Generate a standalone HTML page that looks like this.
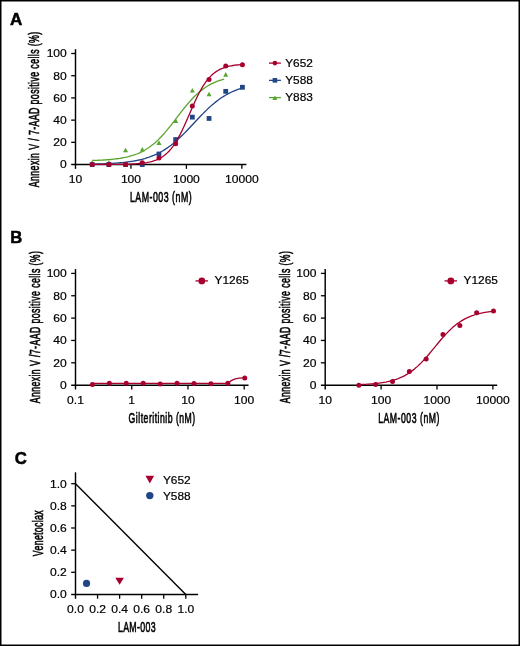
<!DOCTYPE html>
<html><head><meta charset="utf-8"><style>
html,body{margin:0;padding:0;background:#fff;}
body{width:520px;height:646px;overflow:hidden;}
svg{display:block;will-change:transform;}
text{font-family:"Liberation Sans", sans-serif;}
</style></head><body>
<svg width="520" height="646" viewBox="0 0 520 646">
<rect x="0" y="0" width="520" height="646" fill="#fff"/>
<text transform="translate(10.00,24.90) scale(1.040,1)" font-size="16.40" font-weight="bold" fill="#000" stroke="#000" stroke-width="0.5">A</text>
<g stroke-linecap="butt">
<line x1="75.50" y1="49.20" x2="75.50" y2="168.85" stroke="#000" stroke-width="1.45"/>
<line x1="71.20" y1="164.55" x2="246.40" y2="164.55" stroke="#000" stroke-width="1.45"/>
<line x1="71.20" y1="142.34" x2="75.50" y2="142.34" stroke="#000" stroke-width="1.30"/>
<line x1="71.20" y1="120.13" x2="75.50" y2="120.13" stroke="#000" stroke-width="1.30"/>
<line x1="71.20" y1="97.92" x2="75.50" y2="97.92" stroke="#000" stroke-width="1.30"/>
<line x1="71.20" y1="75.71" x2="75.50" y2="75.71" stroke="#000" stroke-width="1.30"/>
<line x1="71.20" y1="53.50" x2="75.50" y2="53.50" stroke="#000" stroke-width="1.30"/>
<line x1="130.95" y1="164.55" x2="130.95" y2="168.85" stroke="#000" stroke-width="1.30"/>
<line x1="186.40" y1="164.55" x2="186.40" y2="168.85" stroke="#000" stroke-width="1.30"/>
<line x1="241.85" y1="164.55" x2="241.85" y2="168.85" stroke="#000" stroke-width="1.30"/>
</g>
<text transform="translate(66.80,168.40) scale(1.120,1)" font-size="10.80" text-anchor="end" fill="#000" stroke="#000" stroke-width="0.20">0</text>
<text transform="translate(66.80,146.19) scale(1.120,1)" font-size="10.80" text-anchor="end" fill="#000" stroke="#000" stroke-width="0.20">20</text>
<text transform="translate(66.80,123.98) scale(1.120,1)" font-size="10.80" text-anchor="end" fill="#000" stroke="#000" stroke-width="0.20">40</text>
<text transform="translate(66.80,101.77) scale(1.120,1)" font-size="10.80" text-anchor="end" fill="#000" stroke="#000" stroke-width="0.20">60</text>
<text transform="translate(66.80,79.56) scale(1.120,1)" font-size="10.80" text-anchor="end" fill="#000" stroke="#000" stroke-width="0.20">80</text>
<text transform="translate(66.80,57.35) scale(1.120,1)" font-size="10.80" text-anchor="end" fill="#000" stroke="#000" stroke-width="0.20">100</text>
<text transform="translate(75.50,183.25) scale(1.120,1)" font-size="10.80" text-anchor="middle" fill="#000" stroke="#000" stroke-width="0.20">10</text>
<text transform="translate(130.95,183.25) scale(1.120,1)" font-size="10.80" text-anchor="middle" fill="#000" stroke="#000" stroke-width="0.20">100</text>
<text transform="translate(186.40,183.25) scale(1.120,1)" font-size="10.80" text-anchor="middle" fill="#000" stroke="#000" stroke-width="0.20">1000</text>
<text transform="translate(241.85,183.25) scale(1.120,1)" font-size="10.80" text-anchor="middle" fill="#000" stroke="#000" stroke-width="0.20">10000</text>
<text transform="translate(38.90,109.50) rotate(-90) scale(0.630,1)" font-size="14.00" text-anchor="middle" fill="#000" stroke="#000" stroke-width="0.60" textLength="246.83" lengthAdjust="spacing">Annexin V / 7-AAD positive cells (%)</text>
<text transform="translate(160.80,202.40) scale(0.630,1)" font-size="14.00" text-anchor="middle" fill="#000" stroke="#000" stroke-width="0.60" textLength="98.10" lengthAdjust="spacing">LAM-003 (nM)</text>
<path d="M92.19,160.49 L93.84,160.44 L95.49,160.38 L97.14,160.31 L98.79,160.24 L100.43,160.16 L102.08,160.08 L103.73,159.98 L105.38,159.88 L107.03,159.76 L108.68,159.63 L110.33,159.49 L111.97,159.33 L113.62,159.16 L115.27,158.97 L116.92,158.77 L118.57,158.54 L120.22,158.29 L121.87,158.01 L123.51,157.71 L125.16,157.38 L126.81,157.02 L128.46,156.62 L130.11,156.18 L131.76,155.71 L133.41,155.19 L135.05,154.62 L136.70,154.00 L138.35,153.33 L140.00,152.60 L141.65,151.81 L143.30,150.96 L144.94,150.04 L146.59,149.04 L148.24,147.97 L149.89,146.83 L151.54,145.60 L153.19,144.29 L154.84,142.90 L156.48,141.43 L158.13,139.87 L159.78,138.23 L161.43,136.52 L163.08,134.72 L164.73,132.86 L166.38,130.92 L168.02,128.93 L169.67,126.89 L171.32,124.80 L172.97,122.68 L174.62,120.53 L176.27,118.37 L177.92,116.21 L179.56,114.05 L181.21,111.91 L182.86,109.81 L184.51,107.74 L186.16,105.71 L187.81,103.74 L189.46,101.84 L191.10,100.00 L192.75,98.24 L194.40,96.56 L196.05,94.95 L197.70,93.43 L199.35,91.99 L200.99,90.64 L202.64,89.37 L204.29,88.17 L205.94,87.06 L207.59,86.03 L209.24,85.06 L210.89,84.17 L212.53,83.34 L214.18,82.58 L215.83,81.88 L217.48,81.23 L219.13,80.63 L220.78,80.09 L222.43,79.59 L224.07,79.13" fill="none" stroke="#5aa52e" stroke-width="1.3"/>
<path d="M89.69,164.78 L94.69,164.78 L92.19,160.18 Z" fill="#5aa52e"/>
<path d="M106.38,164.78 L111.38,164.78 L108.88,160.18 Z" fill="#5aa52e"/>
<path d="M123.08,152.35 L128.08,152.35 L125.58,147.75 Z" fill="#5aa52e"/>
<path d="M139.77,151.57 L144.77,151.57 L142.27,146.97 Z" fill="#5aa52e"/>
<path d="M156.46,144.91 L161.46,144.91 L158.96,140.31 Z" fill="#5aa52e"/>
<path d="M173.15,122.92 L178.15,122.92 L175.65,118.32 Z" fill="#5aa52e"/>
<path d="M189.84,92.49 L194.84,92.49 L192.34,87.89 Z" fill="#5aa52e"/>
<path d="M206.54,96.27 L211.54,96.27 L209.04,91.67 Z" fill="#5aa52e"/>
<path d="M223.23,76.72 L228.23,76.72 L225.73,72.12 Z" fill="#5aa52e"/>
<path d="M92.19,164.13 L94.07,164.09 L95.95,164.04 L97.83,163.99 L99.70,163.93 L101.58,163.87 L103.46,163.80 L105.34,163.72 L107.22,163.64 L109.09,163.55 L110.97,163.44 L112.85,163.33 L114.73,163.21 L116.60,163.08 L118.48,162.93 L120.36,162.77 L122.24,162.59 L124.12,162.39 L125.99,162.18 L127.87,161.94 L129.75,161.69 L131.63,161.40 L133.51,161.09 L135.38,160.76 L137.26,160.39 L139.14,159.99 L141.02,159.55 L142.89,159.07 L144.77,158.55 L146.65,157.98 L148.53,157.37 L150.41,156.70 L152.28,155.98 L154.16,155.21 L156.04,154.37 L157.92,153.47 L159.80,152.50 L161.67,151.46 L163.55,150.35 L165.43,149.16 L167.31,147.91 L169.18,146.57 L171.06,145.16 L172.94,143.68 L174.82,142.12 L176.70,140.50 L178.57,138.80 L180.45,137.04 L182.33,135.22 L184.21,133.35 L186.09,131.44 L187.96,129.48 L189.84,127.50 L191.72,125.50 L193.60,123.48 L195.47,121.47 L197.35,119.46 L199.23,117.47 L201.11,115.51 L202.99,113.58 L204.86,111.69 L206.74,109.86 L208.62,108.08 L210.50,106.36 L212.38,104.71 L214.25,103.13 L216.13,101.62 L218.01,100.19 L219.89,98.83 L221.76,97.55 L223.64,96.34 L225.52,95.21 L227.40,94.15 L229.28,93.16 L231.15,92.24 L233.03,91.38 L234.91,90.58 L236.79,89.84 L238.67,89.16 L240.54,88.53 L242.42,87.95" fill="none" stroke="#214686" stroke-width="1.3"/>
<rect x="89.79" y="162.15" width="4.80" height="4.80" fill="#214686"/>
<rect x="106.48" y="162.15" width="4.80" height="4.80" fill="#214686"/>
<rect x="123.18" y="162.15" width="4.80" height="4.80" fill="#214686"/>
<rect x="139.87" y="162.15" width="4.80" height="4.80" fill="#214686"/>
<rect x="156.56" y="151.60" width="4.80" height="4.80" fill="#214686"/>
<rect x="173.25" y="137.16" width="4.80" height="4.80" fill="#214686"/>
<rect x="189.94" y="114.73" width="4.80" height="4.80" fill="#214686"/>
<rect x="206.64" y="116.06" width="4.80" height="4.80" fill="#214686"/>
<rect x="223.33" y="88.97" width="4.80" height="4.80" fill="#214686"/>
<rect x="240.02" y="84.86" width="4.80" height="4.80" fill="#214686"/>
<path d="M92.19,164.47 L94.07,164.47 L95.95,164.47 L97.83,164.46 L99.70,164.46 L101.58,164.45 L103.46,164.45 L105.34,164.44 L107.22,164.43 L109.09,164.42 L110.97,164.41 L112.85,164.40 L114.73,164.38 L116.60,164.36 L118.48,164.34 L120.36,164.31 L122.24,164.28 L124.12,164.24 L125.99,164.20 L127.87,164.14 L129.75,164.08 L131.63,164.00 L133.51,163.91 L135.38,163.80 L137.26,163.67 L139.14,163.52 L141.02,163.34 L142.89,163.13 L144.77,162.87 L146.65,162.57 L148.53,162.22 L150.41,161.80 L152.28,161.31 L154.16,160.73 L156.04,160.06 L157.92,159.26 L159.80,158.33 L161.67,157.25 L163.55,156.00 L165.43,154.56 L167.31,152.89 L169.18,150.99 L171.06,148.84 L172.94,146.41 L174.82,143.70 L176.70,140.70 L178.57,137.41 L180.45,133.84 L182.33,130.03 L184.21,126.00 L186.09,121.81 L187.96,117.50 L189.84,113.14 L191.72,108.80 L193.60,104.53 L195.47,100.41 L197.35,96.47 L199.23,92.76 L201.11,89.32 L202.99,86.15 L204.86,83.28 L206.74,80.69 L208.62,78.39 L210.50,76.35 L212.38,74.56 L214.25,72.99 L216.13,71.63 L218.01,70.46 L219.89,69.45 L221.76,68.58 L223.64,67.84 L225.52,67.21 L227.40,66.67 L229.28,66.22 L231.15,65.83 L233.03,65.50 L234.91,65.22 L236.79,64.99 L238.67,64.79 L240.54,64.62 L242.42,64.48" fill="none" stroke="#a8002e" stroke-width="1.3"/>
<circle cx="92.19" cy="164.55" r="2.50" fill="#a8002e"/>
<circle cx="108.88" cy="164.55" r="2.50" fill="#a8002e"/>
<circle cx="125.58" cy="164.55" r="2.50" fill="#a8002e"/>
<circle cx="142.27" cy="162.77" r="2.50" fill="#a8002e"/>
<circle cx="158.96" cy="158.00" r="2.50" fill="#a8002e"/>
<circle cx="175.65" cy="143.67" r="2.50" fill="#a8002e"/>
<circle cx="192.34" cy="106.03" r="2.50" fill="#a8002e"/>
<circle cx="209.04" cy="79.49" r="2.50" fill="#a8002e"/>
<circle cx="225.73" cy="66.05" r="2.50" fill="#a8002e"/>
<circle cx="242.42" cy="64.72" r="2.50" fill="#a8002e"/>
<line x1="269.00" y1="63.10" x2="280.90" y2="63.10" stroke="#a8002e" stroke-width="1.30"/>
<circle cx="274.90" cy="63.10" r="2.35" fill="#a8002e"/>
<text transform="translate(285.20,66.85) scale(1.080,1)" font-size="11.00" text-anchor="start" fill="#000" stroke="#000" stroke-width="0.20">Y652</text>
<line x1="269.00" y1="80.35" x2="280.90" y2="80.35" stroke="#214686" stroke-width="1.30"/>
<rect x="272.60" y="78.05" width="4.60" height="4.60" fill="#214686"/>
<text transform="translate(285.20,84.10) scale(1.080,1)" font-size="11.00" text-anchor="start" fill="#000" stroke="#000" stroke-width="0.20">Y588</text>
<line x1="269.00" y1="97.60" x2="280.90" y2="97.60" stroke="#5aa52e" stroke-width="1.30"/>
<path d="M272.40,100.00 L277.40,100.00 L274.90,95.40 Z" fill="#5aa52e"/>
<text transform="translate(285.20,101.35) scale(1.080,1)" font-size="11.00" text-anchor="start" fill="#000" stroke="#000" stroke-width="0.20">Y883</text>
<text transform="translate(10.30,242.70) scale(1.040,1)" font-size="16.00" font-weight="bold" fill="#000" stroke="#000" stroke-width="0.5">B</text>
<g stroke-linecap="butt">
<line x1="75.50" y1="269.10" x2="75.50" y2="389.45" stroke="#000" stroke-width="1.45"/>
<line x1="71.20" y1="385.15" x2="248.50" y2="385.15" stroke="#000" stroke-width="1.45"/>
<line x1="71.20" y1="362.80" x2="75.50" y2="362.80" stroke="#000" stroke-width="1.30"/>
<line x1="71.20" y1="340.45" x2="75.50" y2="340.45" stroke="#000" stroke-width="1.30"/>
<line x1="71.20" y1="318.10" x2="75.50" y2="318.10" stroke="#000" stroke-width="1.30"/>
<line x1="71.20" y1="295.75" x2="75.50" y2="295.75" stroke="#000" stroke-width="1.30"/>
<line x1="71.20" y1="273.40" x2="75.50" y2="273.40" stroke="#000" stroke-width="1.30"/>
<line x1="131.73" y1="385.15" x2="131.73" y2="389.45" stroke="#000" stroke-width="1.30"/>
<line x1="187.96" y1="385.15" x2="187.96" y2="389.45" stroke="#000" stroke-width="1.30"/>
<line x1="244.19" y1="385.15" x2="244.19" y2="389.45" stroke="#000" stroke-width="1.30"/>
</g>
<text transform="translate(66.80,389.00) scale(1.120,1)" font-size="10.80" text-anchor="end" fill="#000" stroke="#000" stroke-width="0.20">0</text>
<text transform="translate(66.80,366.65) scale(1.120,1)" font-size="10.80" text-anchor="end" fill="#000" stroke="#000" stroke-width="0.20">20</text>
<text transform="translate(66.80,344.30) scale(1.120,1)" font-size="10.80" text-anchor="end" fill="#000" stroke="#000" stroke-width="0.20">40</text>
<text transform="translate(66.80,321.95) scale(1.120,1)" font-size="10.80" text-anchor="end" fill="#000" stroke="#000" stroke-width="0.20">60</text>
<text transform="translate(66.80,299.60) scale(1.120,1)" font-size="10.80" text-anchor="end" fill="#000" stroke="#000" stroke-width="0.20">80</text>
<text transform="translate(66.80,277.25) scale(1.120,1)" font-size="10.80" text-anchor="end" fill="#000" stroke="#000" stroke-width="0.20">100</text>
<text transform="translate(75.50,403.85) scale(1.120,1)" font-size="10.80" text-anchor="middle" fill="#000" stroke="#000" stroke-width="0.20">0.1</text>
<text transform="translate(131.73,403.85) scale(1.120,1)" font-size="10.80" text-anchor="middle" fill="#000" stroke="#000" stroke-width="0.20">1</text>
<text transform="translate(187.96,403.85) scale(1.120,1)" font-size="10.80" text-anchor="middle" fill="#000" stroke="#000" stroke-width="0.20">10</text>
<text transform="translate(244.19,403.85) scale(1.120,1)" font-size="10.80" text-anchor="middle" fill="#000" stroke="#000" stroke-width="0.20">100</text>
<text transform="translate(40.10,327.20) rotate(-90) scale(0.630,1)" font-size="13.80" text-anchor="middle" fill="#000" stroke="#000" stroke-width="0.60" textLength="241.59" lengthAdjust="spacing">Annexin V /7-AAD positive cells (%)</text>
<text transform="translate(161.90,422.70) scale(0.630,1)" font-size="13.80" text-anchor="middle" fill="#000" stroke="#000" stroke-width="0.60" textLength="105.71" lengthAdjust="spacing">Gilteritinib (nM)</text>
<g stroke-linecap="butt">
<line x1="325.20" y1="269.10" x2="325.20" y2="389.45" stroke="#000" stroke-width="1.45"/>
<line x1="320.90" y1="385.15" x2="497.20" y2="385.15" stroke="#000" stroke-width="1.45"/>
<line x1="320.90" y1="362.80" x2="325.20" y2="362.80" stroke="#000" stroke-width="1.30"/>
<line x1="320.90" y1="340.45" x2="325.20" y2="340.45" stroke="#000" stroke-width="1.30"/>
<line x1="320.90" y1="318.10" x2="325.20" y2="318.10" stroke="#000" stroke-width="1.30"/>
<line x1="320.90" y1="295.75" x2="325.20" y2="295.75" stroke="#000" stroke-width="1.30"/>
<line x1="320.90" y1="273.40" x2="325.20" y2="273.40" stroke="#000" stroke-width="1.30"/>
<line x1="381.10" y1="385.15" x2="381.10" y2="389.45" stroke="#000" stroke-width="1.30"/>
<line x1="437.00" y1="385.15" x2="437.00" y2="389.45" stroke="#000" stroke-width="1.30"/>
<line x1="492.90" y1="385.15" x2="492.90" y2="389.45" stroke="#000" stroke-width="1.30"/>
</g>
<text transform="translate(316.50,389.00) scale(1.120,1)" font-size="10.80" text-anchor="end" fill="#000" stroke="#000" stroke-width="0.20">0</text>
<text transform="translate(316.50,366.65) scale(1.120,1)" font-size="10.80" text-anchor="end" fill="#000" stroke="#000" stroke-width="0.20">20</text>
<text transform="translate(316.50,344.30) scale(1.120,1)" font-size="10.80" text-anchor="end" fill="#000" stroke="#000" stroke-width="0.20">40</text>
<text transform="translate(316.50,321.95) scale(1.120,1)" font-size="10.80" text-anchor="end" fill="#000" stroke="#000" stroke-width="0.20">60</text>
<text transform="translate(316.50,299.60) scale(1.120,1)" font-size="10.80" text-anchor="end" fill="#000" stroke="#000" stroke-width="0.20">80</text>
<text transform="translate(316.50,277.25) scale(1.120,1)" font-size="10.80" text-anchor="end" fill="#000" stroke="#000" stroke-width="0.20">100</text>
<text transform="translate(325.20,403.85) scale(1.120,1)" font-size="10.80" text-anchor="middle" fill="#000" stroke="#000" stroke-width="0.20">10</text>
<text transform="translate(381.10,403.85) scale(1.120,1)" font-size="10.80" text-anchor="middle" fill="#000" stroke="#000" stroke-width="0.20">100</text>
<text transform="translate(437.00,403.85) scale(1.120,1)" font-size="10.80" text-anchor="middle" fill="#000" stroke="#000" stroke-width="0.20">1000</text>
<text transform="translate(492.90,403.85) scale(1.120,1)" font-size="10.80" text-anchor="middle" fill="#000" stroke="#000" stroke-width="0.20">10000</text>
<text transform="translate(289.80,327.20) rotate(-90) scale(0.630,1)" font-size="13.80" text-anchor="middle" fill="#000" stroke="#000" stroke-width="0.60" textLength="241.59" lengthAdjust="spacing">Annexin V /7-AAD positive cells (%)</text>
<text transform="translate(408.80,422.70) scale(0.630,1)" font-size="13.80" text-anchor="middle" fill="#000" stroke="#000" stroke-width="0.60" textLength="97.14" lengthAdjust="spacing">LAM-003 (nM)</text>
<path d="M92.43,383.36 L227.84,383.36 C232.34,379.56 235.34,377.89 244.77,377.89" fill="none" stroke="#a8002e" stroke-width="1.3"/>
<circle cx="92.43" cy="384.59" r="2.50" fill="#a8002e"/>
<circle cx="109.35" cy="383.36" r="2.50" fill="#a8002e"/>
<circle cx="126.28" cy="383.36" r="2.50" fill="#a8002e"/>
<circle cx="143.21" cy="383.14" r="2.50" fill="#a8002e"/>
<circle cx="160.13" cy="384.03" r="2.50" fill="#a8002e"/>
<circle cx="177.06" cy="383.36" r="2.50" fill="#a8002e"/>
<circle cx="193.99" cy="383.47" r="2.50" fill="#a8002e"/>
<circle cx="210.92" cy="383.70" r="2.50" fill="#a8002e"/>
<circle cx="227.84" cy="383.36" r="2.50" fill="#a8002e"/>
<circle cx="244.77" cy="377.89" r="2.50" fill="#a8002e"/>
<path d="M358.86,384.59 L360.54,384.53 L362.22,384.46 L363.90,384.38 L365.59,384.29 L367.27,384.19 L368.95,384.08 L370.63,383.96 L372.32,383.83 L374.00,383.68 L375.68,383.51 L377.37,383.33 L379.05,383.13 L380.73,382.90 L382.41,382.65 L384.10,382.37 L385.78,382.07 L387.46,381.73 L389.14,381.35 L390.83,380.94 L392.51,380.49 L394.19,379.99 L395.88,379.44 L397.56,378.83 L399.24,378.17 L400.92,377.45 L402.61,376.67 L404.29,375.81 L405.97,374.88 L407.66,373.88 L409.34,372.79 L411.02,371.63 L412.70,370.38 L414.39,369.04 L416.07,367.62 L417.75,366.11 L419.43,364.51 L421.12,362.84 L422.80,361.09 L424.48,359.27 L426.17,357.39 L427.85,355.45 L429.53,353.47 L431.21,351.45 L432.90,349.40 L434.58,347.35 L436.26,345.30 L437.94,343.25 L439.63,341.23 L441.31,339.25 L442.99,337.32 L444.68,335.43 L446.36,333.62 L448.04,331.87 L449.72,330.20 L451.41,328.61 L453.09,327.10 L454.77,325.68 L456.46,324.34 L458.14,323.09 L459.82,321.93 L461.50,320.85 L463.19,319.84 L464.87,318.92 L466.55,318.07 L468.23,317.28 L469.92,316.56 L471.60,315.90 L473.28,315.30 L474.97,314.75 L476.65,314.26 L478.33,313.80 L480.01,313.39 L481.70,313.02 L483.38,312.68 L485.06,312.37 L486.74,312.10 L488.43,311.85 L490.11,311.62 L491.79,311.42 L493.48,311.24" fill="none" stroke="#a8002e" stroke-width="1.3"/>
<circle cx="358.86" cy="385.15" r="2.50" fill="#a8002e"/>
<circle cx="375.68" cy="384.48" r="2.50" fill="#a8002e"/>
<circle cx="392.51" cy="381.46" r="2.50" fill="#a8002e"/>
<circle cx="409.34" cy="371.52" r="2.50" fill="#a8002e"/>
<circle cx="426.17" cy="359.00" r="2.50" fill="#a8002e"/>
<circle cx="442.99" cy="334.42" r="2.50" fill="#a8002e"/>
<circle cx="459.82" cy="325.48" r="2.50" fill="#a8002e"/>
<circle cx="476.65" cy="312.74" r="2.50" fill="#a8002e"/>
<circle cx="493.48" cy="311.06" r="2.50" fill="#a8002e"/>
<line x1="195.50" y1="280.90" x2="208.00" y2="280.90" stroke="#a8002e" stroke-width="1.30"/>
<circle cx="201.80" cy="280.90" r="3.40" fill="#a8002e"/>
<text transform="translate(214.60,284.00) scale(1.080,1)" font-size="11.00" text-anchor="start" fill="#000" stroke="#000" stroke-width="0.20">Y1265</text>
<line x1="444.50" y1="280.90" x2="457.00" y2="280.90" stroke="#a8002e" stroke-width="1.30"/>
<circle cx="450.80" cy="280.90" r="3.40" fill="#a8002e"/>
<text transform="translate(463.60,284.00) scale(1.080,1)" font-size="11.00" text-anchor="start" fill="#000" stroke="#000" stroke-width="0.20">Y1265</text>
<text transform="translate(14.80,463.50) scale(1.040,1)" font-size="16.10" font-weight="bold" fill="#000" stroke="#000" stroke-width="0.5">C</text>
<g stroke-linecap="butt">
<line x1="75.50" y1="472.30" x2="75.50" y2="598.75" stroke="#000" stroke-width="1.45"/>
<line x1="71.20" y1="594.45" x2="198.10" y2="594.45" stroke="#000" stroke-width="1.45"/>
<line x1="71.20" y1="572.30" x2="75.50" y2="572.30" stroke="#000" stroke-width="1.30"/>
<line x1="71.20" y1="550.15" x2="75.50" y2="550.15" stroke="#000" stroke-width="1.30"/>
<line x1="71.20" y1="528.00" x2="75.50" y2="528.00" stroke="#000" stroke-width="1.30"/>
<line x1="71.20" y1="505.85" x2="75.50" y2="505.85" stroke="#000" stroke-width="1.30"/>
<line x1="71.20" y1="483.70" x2="75.50" y2="483.70" stroke="#000" stroke-width="1.30"/>
<line x1="97.56" y1="594.45" x2="97.56" y2="598.75" stroke="#000" stroke-width="1.30"/>
<line x1="119.62" y1="594.45" x2="119.62" y2="598.75" stroke="#000" stroke-width="1.30"/>
<line x1="141.68" y1="594.45" x2="141.68" y2="598.75" stroke="#000" stroke-width="1.30"/>
<line x1="163.74" y1="594.45" x2="163.74" y2="598.75" stroke="#000" stroke-width="1.30"/>
<line x1="185.80" y1="594.45" x2="185.80" y2="598.75" stroke="#000" stroke-width="1.30"/>
</g>
<text transform="translate(66.80,598.30) scale(1.120,1)" font-size="10.80" text-anchor="end" fill="#000" stroke="#000" stroke-width="0.20">0.0</text>
<text transform="translate(66.80,576.15) scale(1.120,1)" font-size="10.80" text-anchor="end" fill="#000" stroke="#000" stroke-width="0.20">0.2</text>
<text transform="translate(66.80,554.00) scale(1.120,1)" font-size="10.80" text-anchor="end" fill="#000" stroke="#000" stroke-width="0.20">0.4</text>
<text transform="translate(66.80,531.85) scale(1.120,1)" font-size="10.80" text-anchor="end" fill="#000" stroke="#000" stroke-width="0.20">0.6</text>
<text transform="translate(66.80,509.70) scale(1.120,1)" font-size="10.80" text-anchor="end" fill="#000" stroke="#000" stroke-width="0.20">0.8</text>
<text transform="translate(66.80,487.55) scale(1.120,1)" font-size="10.80" text-anchor="end" fill="#000" stroke="#000" stroke-width="0.20">1.0</text>
<text transform="translate(75.50,613.15) scale(1.120,1)" font-size="10.80" text-anchor="middle" fill="#000" stroke="#000" stroke-width="0.20">0.0</text>
<text transform="translate(97.56,613.15) scale(1.120,1)" font-size="10.80" text-anchor="middle" fill="#000" stroke="#000" stroke-width="0.20">0.2</text>
<text transform="translate(119.62,613.15) scale(1.120,1)" font-size="10.80" text-anchor="middle" fill="#000" stroke="#000" stroke-width="0.20">0.4</text>
<text transform="translate(141.68,613.15) scale(1.120,1)" font-size="10.80" text-anchor="middle" fill="#000" stroke="#000" stroke-width="0.20">0.6</text>
<text transform="translate(163.74,613.15) scale(1.120,1)" font-size="10.80" text-anchor="middle" fill="#000" stroke="#000" stroke-width="0.20">0.8</text>
<text transform="translate(185.80,613.15) scale(1.120,1)" font-size="10.80" text-anchor="middle" fill="#000" stroke="#000" stroke-width="0.20">1.0</text>
<line x1="75.50" y1="483.70" x2="185.80" y2="594.45" stroke="#000" stroke-width="1.40"/>
<circle cx="86.53" cy="583.38" r="3.60" fill="#214686"/>
<path d="M115.32,577.66 L123.92,577.66 L119.62,584.66 Z" fill="#a8002e"/>
<path d="M145.50,475.80 L154.10,475.80 L149.80,483.40 Z" fill="#a8002e"/>
<circle cx="149.80" cy="495.60" r="3.70" fill="#214686"/>
<text transform="translate(162.90,484.10) scale(1.080,1)" font-size="11.00" text-anchor="start" fill="#000" stroke="#000" stroke-width="0.20">Y652</text>
<text transform="translate(162.90,499.60) scale(1.080,1)" font-size="11.00" text-anchor="start" fill="#000" stroke="#000" stroke-width="0.20">Y588</text>
<text transform="translate(42.90,533.30) rotate(-90) scale(0.630,1)" font-size="14.00" text-anchor="middle" fill="#000" stroke="#000" stroke-width="0.60" textLength="72.70" lengthAdjust="spacing">Venetoclax</text>
<text transform="translate(136.80,632.30) scale(0.630,1)" font-size="14.00" text-anchor="middle" fill="#000" stroke="#000" stroke-width="0.60" textLength="60.00" lengthAdjust="spacing">LAM-003</text>
<rect x="0.75" y="0.75" width="518.5" height="644.5" fill="none" stroke="#000" stroke-width="1.5"/>
</svg>
</body></html>
